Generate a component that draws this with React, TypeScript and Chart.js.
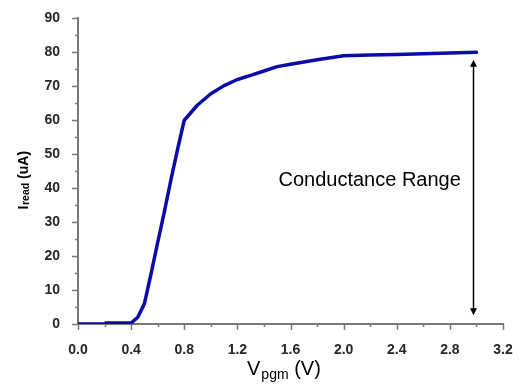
import React, { useEffect, useRef } from 'react';
import { Chart, registerables } from 'chart.js';

Chart.register(...registerables);

// ---- data ----
const vpgm = [0, 0.1, 0.2, 0.21, 0.3, 0.4, 0.45, 0.5, 0.55, 0.6, 0.65, 0.7, 0.75, 0.8, 0.9, 1.0, 1.1, 1.2, 1.3, 1.4, 1.5, 1.6, 1.8, 2.0, 2.2, 2.4, 2.6, 2.8, 3.0];
const iread = [0, 0, 0.05, 0.3, 0.3, 0.3, 2, 6, 14.8, 24, 33, 42.5, 51.5, 60, 64.5, 67.8, 70.2, 72, 73.2, 74.5, 75.8, 76.5, 77.8, 79, 79.2, 79.4, 79.6, 79.8, 80];

const xMin = 0;
const xMax = 3.2;
const xStep = 0.4;
const yMin = 0;
const yMax = 90;
const yStep = 10;

const annotationLabel = 'Conductance Range';
const annotationAt = { x: 2.196, y: 40.5 };
const rangeArrow = { x: 2.975, top: 77.8, bottom: 2.6 };

const FONT = "Arial, 'Liberation Sans', sans-serif";
const AXIS_COLOR = '#7a7a7a';
const LINE_COLOR = '#0b0ba8';

const decorPlugin = {
  id: 'decor',
  afterDraw(chart: any) {
    const { ctx, chartArea, scales } = chart;
    const x = scales.x;
    const y = scales.y;
    ctx.save();

    // ticks (major + minor), outward
    ctx.strokeStyle = AXIS_COLOR;
    ctx.lineWidth = 1.5;
    ctx.beginPath();
    const nx = Math.round((xMax - xMin) / (xStep / 2));
    for (let i = 0; i <= nx; i++) {
      const v = xMin + (i * xStep) / 2;
      const px = Math.round(x.getPixelForValue(v)) + 0.5;
      const len = i % 2 === 0 ? 6 : 3;
      ctx.moveTo(px, chartArea.bottom);
      ctx.lineTo(px, chartArea.bottom + len);
    }
    const ny = Math.round((yMax - yMin) / (yStep / 2));
    for (let i = 0; i <= ny; i++) {
      const v = yMin + (i * yStep) / 2;
      const py = Math.round(y.getPixelForValue(v)) + 0.5;
      const len = i % 2 === 0 ? 6 : 3;
      ctx.moveTo(chartArea.left, py);
      ctx.lineTo(chartArea.left - len, py);
    }
    ctx.stroke();

    // annotation text
    ctx.fillStyle = '#000';
    ctx.font = `20px ${FONT}`;
    ctx.textAlign = 'center';
    ctx.textBaseline = 'alphabetic';
    ctx.fillText(annotationLabel, x.getPixelForValue(annotationAt.x), y.getPixelForValue(annotationAt.y));

    // double-headed arrow
    const ax = Math.round(x.getPixelForValue(rangeArrow.x)) + 0.5;
    const aTop = y.getPixelForValue(rangeArrow.top);
    const aBot = y.getPixelForValue(rangeArrow.bottom);
    const head = 7;
    const hw = 3.5;
    ctx.strokeStyle = '#000';
    ctx.lineWidth = 1.5;
    ctx.beginPath();
    ctx.moveTo(ax, aTop + head - 1);
    ctx.lineTo(ax, aBot - head + 1);
    ctx.stroke();
    ctx.fillStyle = '#000';
    ctx.beginPath();
    ctx.moveTo(ax, aTop);
    ctx.lineTo(ax - hw, aTop + head);
    ctx.lineTo(ax + hw, aTop + head);
    ctx.closePath();
    ctx.fill();
    ctx.beginPath();
    ctx.moveTo(ax, aBot);
    ctx.lineTo(ax - hw, aBot - head);
    ctx.lineTo(ax + hw, aBot - head);
    ctx.closePath();
    ctx.fill();

    // x axis title: V_pgm (V)
    ctx.textAlign = 'left';
    ctx.fillStyle = '#000';
    let tx = chartArea.left + 169;
    const tb = chartArea.bottom + 51;
    ctx.font = `20px ${FONT}`;
    ctx.fillText('V', tx, tb);
    tx += ctx.measureText('V').width + 1;
    ctx.font = `14px ${FONT}`;
    ctx.fillText('pgm', tx, tb + 4);
    tx += ctx.measureText('pgm').width;
    ctx.font = `20px ${FONT}`;
    ctx.fillText(' (V)', tx, tb);

    // y axis title: I_read (uA)
    ctx.save();
    ctx.translate(28, chartArea.top + 191);
    ctx.rotate(-Math.PI / 2);
    ctx.font = `bold 14px ${FONT}`;
    ctx.fillText('I', 0, 0);
    let ox = ctx.measureText('I').width + 0.5;
    ctx.font = `bold 10.5px ${FONT}`;
    ctx.fillText('read', ox, 1);
    ox += ctx.measureText('read').width;
    ctx.font = `bold 14px ${FONT}`;
    ctx.fillText(' (uA)', ox, 0);
    ctx.restore();

    ctx.restore();
  },
};

export default function App() {
  const canvasRef = useRef<HTMLCanvasElement | null>(null);

  useEffect(() => {
    document.body.style.margin = '0';
    const canvas = canvasRef.current;
    if (!canvas) return;
    const chart = new Chart(canvas, {
      type: 'line',
      data: {
        datasets: [
          {
            data: vpgm.map((v, i) => ({ x: v, y: iread[i] })),
            borderColor: LINE_COLOR,
            borderWidth: 3.5,
            pointRadius: 0,
            tension: 0,
            fill: false,
            borderJoinStyle: 'round',
            borderCapStyle: 'round',
          },
        ],
      },
      options: {
        animation: false,
        responsive: false,
        devicePixelRatio: 1,
        layout: { padding: { top: 13, right: 20, left: 0, bottom: 0 } },
        plugins: {
          legend: { display: false },
          tooltip: { enabled: false },
        },
        scales: {
          x: {
            type: 'linear',
            min: xMin,
            max: xMax,
            grid: { display: false },
            border: { display: true, color: AXIS_COLOR, width: 2 },
            ticks: {
              stepSize: xStep,
              padding: 10,
              color: '#262626',
              font: { family: FONT, size: 14, weight: 'bold' },
              callback: (v: any) => Number(v).toFixed(1),
              maxRotation: 0,
              autoSkip: false,
            },
            afterFit: (s: any) => {
              s.height = 63;
            },
          },
          y: {
            type: 'linear',
            min: yMin,
            max: yMax,
            grid: { display: false },
            border: { display: true, color: AXIS_COLOR, width: 2 },
            ticks: {
              stepSize: yStep,
              padding: 10,
              color: '#262626',
              font: { family: FONT, size: 14, weight: 'bold' },
              autoSkip: false,
            },
            afterFit: (s: any) => {
              s.width = 78;
            },
          },
        },
      },
      plugins: [decorPlugin],
    } as any);
    return () => chart.destroy();
  }, []);

  return (
    <div style={{ width: 523, height: 387, background: '#fff' }}>
      <canvas ref={canvasRef} width={523} height={387} style={{ display: 'block' }} />
    </div>
  );
}
